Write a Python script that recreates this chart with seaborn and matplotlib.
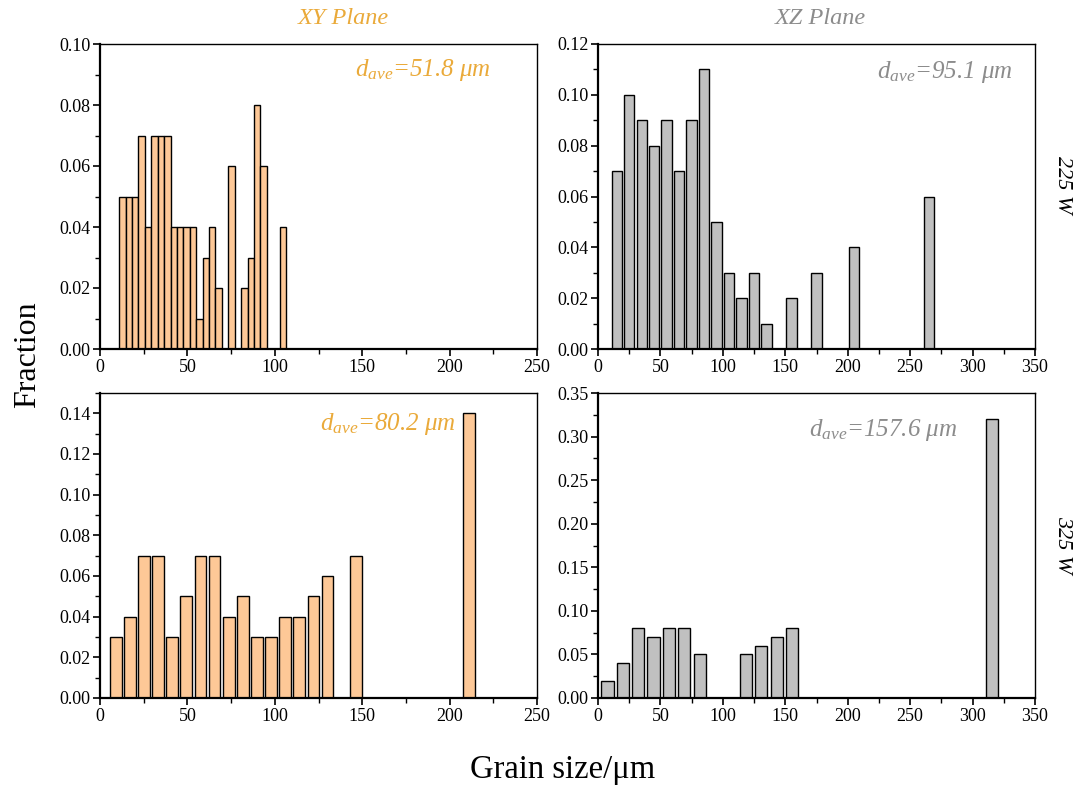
import numpy as np
import pandas as pd
import matplotlib
matplotlib.use("Agg")
import matplotlib.pyplot as plt
from matplotlib.ticker import MultipleLocator, FormatStrFormatter
import seaborn as sns

# ---- grain size distributions (bin centre in µm, fraction) ----
xy225_size = [12.84, 16.51, 20.18, 23.85, 27.52, 31.19, 34.86, 38.53, 42.20, 45.87,
              49.54, 53.21, 56.88, 60.55, 64.22, 67.89, 75.23, 82.57, 86.24, 89.91,
              93.58, 104.59]
xy225_frac = [0.05, 0.05, 0.05, 0.07, 0.04, 0.07, 0.07, 0.07, 0.04, 0.04,
              0.04, 0.04, 0.01, 0.03, 0.04, 0.02, 0.06, 0.02, 0.03, 0.08,
              0.06, 0.04]

xz225_size = [15, 25, 35, 45, 55, 65, 75, 85, 95, 105, 115, 125, 135,
              155, 175, 205, 265]
xz225_frac = [0.07, 0.10, 0.09, 0.08, 0.09, 0.07, 0.09, 0.11, 0.05, 0.03, 0.02, 0.03, 0.01,
              0.02, 0.03, 0.04, 0.06]

xy325_size = [9.0, 17.08, 25.16, 33.24, 41.32, 49.40, 57.48, 65.56, 73.64, 81.72,
              89.80, 97.88, 105.96, 114.04, 122.12, 130.20, 146.36, 211.0]
xy325_frac = [0.03, 0.04, 0.07, 0.07, 0.03, 0.05, 0.07, 0.07, 0.04, 0.05,
              0.03, 0.03, 0.04, 0.04, 0.05, 0.06, 0.07, 0.14]

xz325_size = [7.5, 19.83, 32.16, 44.49, 56.82, 69.15, 81.48,
              118.47, 130.8, 143.13, 155.46, 315.75]
xz325_frac = [0.02, 0.04, 0.08, 0.07, 0.08, 0.08, 0.05,
              0.05, 0.06, 0.07, 0.08, 0.32]

d_ave = ["51.8", "95.1", "80.2", "157.6"]
plane_titles = ["XY Plane", "XZ Plane"]
power_labels = ["225 W", "325 W"]

ORANGE_FILL = "#FDC897"
GRAY_FILL = "#C0C0C0"
ORANGE_TEXT = "#EAAA3A"
GRAY_TEXT = "#8C8C8C"

sns.set_theme(style="ticks")
plt.rcParams["font.family"] = ["Liberation Serif", "DejaVu Serif"]
plt.rcParams["mathtext.fontset"] = "custom"
plt.rcParams["mathtext.rm"] = "Liberation Serif"
plt.rcParams["mathtext.it"] = "Liberation Serif:italic"
plt.rcParams["axes.unicode_minus"] = False

fig = plt.figure(figsize=(10.8, 7.9), dpi=100)

W, H = 1080, 790
def rect(x0, y0, x1, y1):
    return [x0 / W, 1 - y1 / H, (x1 - x0) / W, (y1 - y0) / H]

panels = [
    dict(rect=rect(100, 44, 537, 349), size=xy225_size, frac=xy225_frac, width=1.0,
         fill=ORANGE_FILL, tcol=ORANGE_TEXT, xmax=250, ymax=0.10, ymaj=0.02, ymin=0.01,
         d=d_ave[0], tx=0.739, ty=0.915),
    dict(rect=rect(598, 44, 1035, 349), size=xz225_size, frac=xz225_frac, width=0.83,
         fill=GRAY_FILL, tcol=GRAY_TEXT, xmax=350, ymax=0.12, ymaj=0.02, ymin=0.01,
         d=d_ave[1], tx=0.794, ty=0.908),
    dict(rect=rect(100, 393, 537, 698), size=xy325_size, frac=xy325_frac, width=0.83,
         fill=ORANGE_FILL, tcol=ORANGE_TEXT, xmax=250, ymax=0.15, ymaj=0.02, ymin=0.01,
         d=d_ave[2], tx=0.658, ty=0.898),
    dict(rect=rect(598, 393, 1035, 698), size=xz325_size, frac=xz325_frac, width=0.80,
         fill=GRAY_FILL, tcol=GRAY_TEXT, xmax=350, ymax=0.35, ymaj=0.05, ymin=0.025,
         d=d_ave[3], tx=0.652, ty=0.879),
]

for p in panels:
    ax = fig.add_axes(p["rect"])
    df = pd.DataFrame({"size": p["size"], "frac": p["frac"]})
    sns.barplot(data=df, x="size", y="frac", native_scale=True, width=p["width"],
                color=p["fill"], saturation=1, edgecolor="black", linewidth=1.0,
                errorbar=None, ax=ax, zorder=2)
    ax.set_xlim(0, p["xmax"])
    ax.set_ylim(0, p["ymax"])
    ax.xaxis.set_major_locator(MultipleLocator(50))
    ax.xaxis.set_minor_locator(MultipleLocator(25))
    ax.yaxis.set_major_locator(MultipleLocator(p["ymaj"]))
    ax.yaxis.set_minor_locator(MultipleLocator(p["ymin"]))
    ax.yaxis.set_major_formatter(FormatStrFormatter("%.2f"))
    ax.set_xlabel("")
    ax.set_ylabel("")
    for side in ["left", "bottom"]:
        ax.spines[side].set_linewidth(1.6)
    for side in ["top", "right"]:
        ax.spines[side].set_visible(True)
        ax.spines[side].set_linewidth(1.0)
    for s in ax.spines.values():
        s.set_color("black")
        s.set_zorder(3)
    ax.tick_params(which="major", direction="out", length=5, width=1.2,
                   labelsize=13, colors="black", pad=2)
    ax.tick_params(which="minor", direction="out", length=3.5, width=1.0, colors="black")
    ax.text(p["tx"], p["ty"], r"$d_{ave}$=" + p["d"] + " μm", transform=ax.transAxes,
            ha="center", va="center", fontsize=18, style="italic", color=p["tcol"])

fig.text(343 / W, 1 - 18 / H, plane_titles[0], ha="center", va="center",
         fontsize=17.5, style="italic", color=ORANGE_TEXT)
fig.text(820 / W, 1 - 18 / H, plane_titles[1], ha="center", va="center",
         fontsize=17.5, style="italic", color=GRAY_TEXT)
fig.text(1063 / W, 1 - 185 / H, power_labels[0], ha="center", va="center",
         fontsize=16, style="italic", rotation=270, color="black")
fig.text(1063 / W, 1 - 545 / H, power_labels[1], ha="center", va="center",
         fontsize=16, style="italic", rotation=270, color="black")
fig.text(28 / W, 1 - 355 / H, "Fraction", ha="center", va="center",
         fontsize=23, rotation=90, color="black")
fig.text(563 / W, 1 - 770 / H, "Grain size/μm", ha="center", va="center",
         fontsize=23.5, color="black")

fig.savefig("out.png", dpi=100)
